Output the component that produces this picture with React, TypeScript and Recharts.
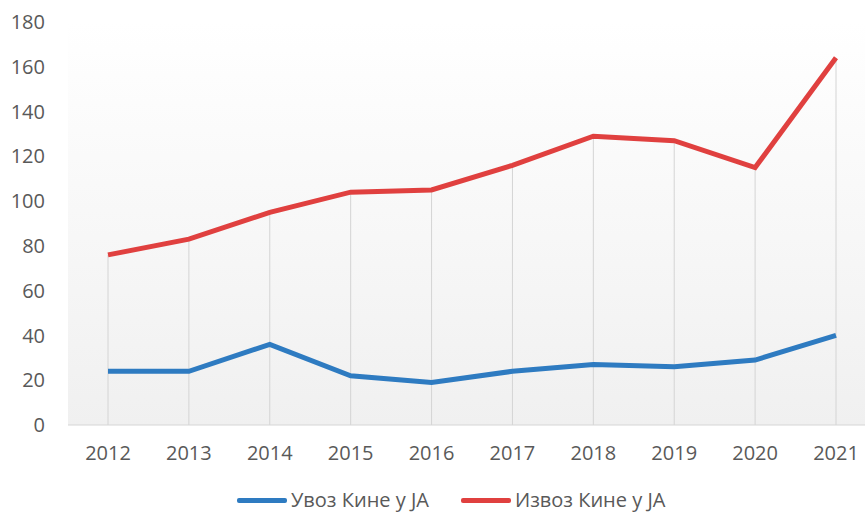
import { LineChart, Line, XAxis, YAxis, CartesianGrid, ReferenceLine } from 'recharts';

// Године и вредности серија
const GODINE = ['2012', '2013', '2014', '2015', '2016', '2017', '2018', '2019', '2020', '2021'];
const UVOZ = [24, 24, 36, 22, 19, 24, 27, 26, 29, 40];
const IZVOZ = [76, 83, 95, 104, 105, 116, 129, 127, 115, 164];
const Y_TICKS = [0, 20, 40, 60, 80, 100, 120, 140, 160, 180];

const SERIJE = [
  { key: 'uvoz', label: 'Увоз Кине у JA', color: '#2E7BC1' },
  { key: 'izvoz', label: 'Извоз Кине у JA', color: '#E0403F' },
];

const podaci = GODINE.map((g, i) => ({ godina: g, uvoz: UVOZ[i], izvoz: IZVOZ[i] }));

const FONT = '"Open Sans", sans-serif';

export default function App() {
  return (
    <div style={{ position: 'relative', width: 865, height: 513, background: '#fff', fontFamily: FONT, overflow: 'hidden' }}>
      <style>{`body{margin:0}`}</style>
      <LineChart width={865} height={513} data={podaci} margin={{ top: 22, right: 0, left: 0, bottom: 0 }}>
        <defs>
          <linearGradient id="pozadina" x1="0" y1="0" x2="0" y2="1">
            <stop offset="0%" stopColor="#ffffff" />
            <stop offset="40%" stopColor="#f9f9f9" />
            <stop offset="100%" stopColor="#f0f0f0" />
          </linearGradient>
        </defs>
        <CartesianGrid horizontal={false} vertical={false} fill="url(#pozadina)" />
        <XAxis
          dataKey="godina"
          height={88}
          padding={{ left: 40, right: 29 }}
          tickLine={false}
          tickSize={0}
          tickMargin={21}
          stroke="#d6d6d6"
          tick={{ fill: '#595959', fontSize: 20, fontFamily: FONT }}
        />
        <YAxis
          width={68}
          domain={[0, 180]}
          ticks={Y_TICKS}
          axisLine={false}
          tickLine={false}
          tickSize={0}
          tickMargin={23}
          tick={{ fill: '#595959', fontSize: 20, fontFamily: FONT }}
        />
        {/* вертикалне линије од тачке до осе */}
        {GODINE.map((g, i) => (
          <ReferenceLine
            key={g}
            segment={[{ x: g, y: 0 }, { x: g, y: Math.max(UVOZ[i], IZVOZ[i]) }]}
            stroke="#d4d4d4"
            strokeWidth={1}
          />
        ))}
        {SERIJE.map(s => (
          <Line
            key={s.key}
            type="linear"
            dataKey={s.key}
            stroke={s.color}
            strokeWidth={5}
            dot={false}
            activeDot={false}
            isAnimationActive={false}
          />
        ))}
      </LineChart>

      {/* Легенда */}
      <div style={{ position: 'absolute', top: 488, left: 237, display: 'flex', gap: 32 }}>
        {SERIJE.map(s => (
          <div key={s.key} style={{ display: 'flex', alignItems: 'center', gap: 4 }}>
            <span style={{ display: 'inline-block', width: 50, height: 5, background: s.color, borderRadius: 2 }} />
            <span style={{ fontSize: 20, color: '#595959', lineHeight: '24px' }}>{s.label}</span>
          </div>
        ))}
      </div>
    </div>
  );
}
